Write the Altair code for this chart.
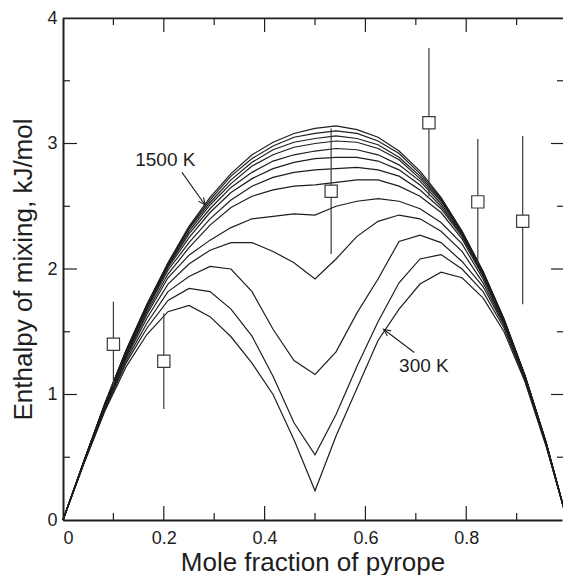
import altair as alt
import pandas as pd

# ---------------- data ----------------
x_grid = [0, 0.0417, 0.0833, 0.125, 0.1667, 0.2083, 0.25, 0.2917, 0.3333, 0.375,
          0.4167, 0.4583, 0.5, 0.5417, 0.5833, 0.625, 0.6667, 0.7083, 0.75, 0.7917,
          0.8333, 0.875, 0.9167, 0.9583, 1.0]

h1500 = [0, 0.47, 0.93, 1.35, 1.72, 2.05, 2.34, 2.57, 2.76, 2.91, 3.01, 3.08, 3.12, 3.14, 3.11, 3.05, 2.94, 2.78, 2.57, 2.30, 1.98, 1.60, 1.15, 0.62, 0]
h1400 = [0, 0.47, 0.93, 1.35, 1.72, 2.045, 2.33, 2.55, 2.74, 2.88, 2.98, 3.05, 3.08, 3.10, 3.08, 3.02, 2.92, 2.76, 2.56, 2.30, 1.98, 1.60, 1.15, 0.62, 0]
h1300 = [0, 0.47, 0.93, 1.345, 1.715, 2.04, 2.32, 2.53, 2.71, 2.85, 2.95, 3.01, 3.04, 3.06, 3.04, 2.99, 2.89, 2.74, 2.55, 2.295, 1.98, 1.60, 1.15, 0.62, 0]
h1200 = [0, 0.47, 0.925, 1.34, 1.71, 2.03, 2.30, 2.51, 2.68, 2.82, 2.91, 2.97, 3.00, 3.02, 3.01, 2.96, 2.87, 2.72, 2.54, 2.29, 1.97, 1.595, 1.145, 0.62, 0]
h1100 = [0, 0.47, 0.92, 1.335, 1.70, 2.02, 2.28, 2.48, 2.65, 2.77, 2.86, 2.91, 2.94, 2.96, 2.95, 2.91, 2.83, 2.70, 2.52, 2.28, 1.97, 1.59, 1.145, 0.62, 0]
h1000 = [0, 0.47, 0.92, 1.33, 1.69, 2.01, 2.25, 2.45, 2.61, 2.72, 2.80, 2.85, 2.88, 2.89, 2.89, 2.86, 2.79, 2.67, 2.50, 2.27, 1.96, 1.59, 1.14, 0.615, 0]
h900 = [0, 0.47, 0.915, 1.32, 1.68, 1.99, 2.21, 2.40, 2.55, 2.66, 2.73, 2.77, 2.79, 2.80, 2.81, 2.79, 2.74, 2.63, 2.48, 2.26, 1.95, 1.585, 1.14, 0.615, 0]
h800 = [0, 0.465, 0.91, 1.31, 1.66, 1.96, 2.17, 2.35, 2.49, 2.58, 2.63, 2.66, 2.67, 2.69, 2.71, 2.71, 2.66, 2.58, 2.45, 2.24, 1.94, 1.58, 1.135, 0.61, 0]
h700 = [0, 0.465, 0.905, 1.30, 1.64, 1.93, 2.11, 2.23, 2.33, 2.40, 2.42, 2.44, 2.43, 2.50, 2.54, 2.56, 2.54, 2.48, 2.37, 2.20, 1.92, 1.57, 1.13, 0.61, 0]
h600 = [0, 0.46, 0.90, 1.29, 1.61, 1.88, 2.04, 2.15, 2.21, 2.21, 2.14, 2.05, 1.92, 2.08, 2.26, 2.38, 2.43, 2.40, 2.30, 2.14, 1.89, 1.56, 1.125, 0.605, 0]
h500 = [0, 0.46, 0.89, 1.27, 1.57, 1.82, 1.94, 2.02, 2.00, 1.82, 1.52, 1.27, 1.16, 1.34, 1.65, 1.92, 2.22, 2.27, 2.21, 2.06, 1.86, 1.55, 1.12, 0.60, 0]
h400 = [0, 0.455, 0.88, 1.25, 1.53, 1.75, 1.845, 1.82, 1.68, 1.465, 1.146, 0.775, 0.52, 0.84, 1.225, 1.58, 1.89, 2.08, 2.115, 2.00, 1.82, 1.53, 1.11, 0.595, 0]
h300 = [0, 0.45, 0.87, 1.22, 1.48, 1.66, 1.71, 1.62, 1.46, 1.25, 1.00, 0.64, 0.233, 0.67, 1.05, 1.43, 1.68, 1.88, 1.975, 1.93, 1.77, 1.50, 1.10, 0.59, 0]

temps = [1500, 1400, 1300, 1200, 1100, 1000, 900, 800, 700, 600, 500, 400, 300]
curves = [h1500, h1400, h1300, h1200, h1100, h1000, h900, h800, h700, h600, h500, h400, h300]

# experimental points
exp_x = [0.1, 0.2, 0.532, 0.726, 0.823, 0.912]
exp_y = [1.40, 1.265, 2.62, 3.165, 2.535, 2.38]
exp_lo = [1.06, 0.885, 2.12, 2.58, 2.035, 1.72]
exp_hi = [1.74, 1.645, 3.12, 3.76, 3.035, 3.06]

# axis ticks
x_labels = [0, 0.2, 0.4, 0.6, 0.8]
y_labels = [0, 1, 2, 3, 4]
x_major = [0.2, 0.4, 0.6, 0.8]
x_minor = [0.1, 0.3, 0.5, 0.7, 0.9]
y_major = [1, 2, 3]
y_minor = [0.5, 1.5, 2.5, 3.5]

# annotations
lab_text = ["1500 K", "300 K"]
lab_x = [0.203, 0.716]
lab_y = [2.87, 1.23]
arr_x1 = [0.236, 0.697]
arr_y1 = [2.77, 1.335]
arr_x2 = [0.282, 0.636]
arr_y2 = [2.51, 1.52]
arr_angle = [54, 216.6]

W, H = 499, 502
X_MAX, Y_MAX = 0.99, 4.0
PX_X = X_MAX / W        # data units per pixel along x
PX_Y = Y_MAX / H        # data units per pixel along y
MAJ, MIN = 14, 7        # tick lengths in pixels

# ---------------- frames ----------------
rows = []
for t, ys in zip(temps, curves):
    for xv, yv in zip(x_grid, ys):
        rows.append({"key": f"T{t}", "x": xv, "y": yv})

# tick marks and top frame drawn as short two-point lines in the same line layer
n_seg = [0]


def add_seg(x1, y1, x2, y2):
    k = f"tick{n_seg[0]}"
    n_seg[0] += 1
    rows.append({"key": k, "x": x1, "y": y1})
    rows.append({"key": k, "x": x2, "y": y2})


for v in x_major:
    add_seg(v, 0, v, MAJ * PX_Y)
    add_seg(v, Y_MAX, v, Y_MAX - MAJ * PX_Y)
for v in x_minor:
    add_seg(v, 0, v, MIN * PX_Y)
    add_seg(v, Y_MAX, v, Y_MAX - MIN * PX_Y)
for v in y_major:
    add_seg(0, v, MAJ * PX_X, v)
    add_seg(X_MAX - 11 * PX_X, v, X_MAX + 2 * PX_X, v)
for v in y_minor:
    add_seg(0, v, MIN * PX_X, v)
    add_seg(X_MAX - 5 * PX_X, v, X_MAX + 2 * PX_X, v)
add_seg(0, Y_MAX, X_MAX + 2 * PX_X, Y_MAX)
add_seg(0, Y_MAX - 0.6 * PX_Y, X_MAX + 2 * PX_X, Y_MAX - 0.6 * PX_Y)

df = pd.DataFrame(rows)
exp_df = pd.DataFrame({"x": exp_x, "y": exp_y, "lo": exp_lo, "hi": exp_hi})
lab_df = pd.DataFrame({"x": lab_x, "y": lab_y, "text": lab_text})
arr_df = pd.DataFrame({"x": arr_x1, "y": arr_y1, "x2": arr_x2, "y2": arr_y2, "angle": arr_angle})

FONT = "Liberation Sans"
INK = "#1e1e1e"
GREY = "#3a3a3a"

xs = alt.Scale(domain=[0, X_MAX], nice=False, zero=False)
ys_ = alt.Scale(domain=[0, Y_MAX], nice=False)

XAX = alt.Axis(
    values=x_labels, format=".1~f", ticks=False, grid=False,
    domainColor=INK, domainWidth=2, labelFontSize=18, labelColor=INK,
    labelPadding=9, title="Mole fraction of pyrope", titleFontSize=26,
    titleFontWeight="normal", titleColor=INK, titlePadding=2)
YAX = alt.Axis(
    values=y_labels, format="d", ticks=False, grid=False,
    domainColor=INK, domainWidth=2, labelFontSize=18, labelColor=INK,
    labelPadding=6, title="Enthalpy of mixing, kJ/mol", titleFontSize=26,
    titleFontWeight="normal", titleColor=INK, titlePadding=10)


def X(field):
    return alt.X(field, scale=xs, axis=XAX)


def Y(field):
    return alt.Y(field, scale=ys_, axis=YAX)


lines = alt.Chart(df).mark_line(color=INK, strokeWidth=1.2).encode(
    x=X("x:Q"), y=Y("y:Q"), detail="key:N",
)

ebars = alt.Chart(exp_df).mark_rule(color=GREY, strokeWidth=1.2).encode(
    x=X("x:Q"), y=Y("lo:Q"), y2="hi:Q",
)

squares = alt.Chart(exp_df).mark_point(
    shape="square", size=150, filled=True, fill="white", stroke=GREY,
    strokeWidth=1.2, opacity=1).encode(
    x=X("x:Q"), y=Y("y:Q"),
)

labels = alt.Chart(lab_df).mark_text(fontSize=19, color=INK, align="center",
                                     baseline="middle").encode(
    x=X("x:Q"), y=Y("y:Q"), text="text:N",
)

arrow_lines = alt.Chart(arr_df).mark_rule(color=INK, strokeWidth=1.1).encode(
    x=X("x:Q"), y=Y("y:Q"), x2="x2:Q", y2="y2:Q",
)
arrow_heads = alt.Chart(arr_df).mark_point(
    shape="M-1,-0.45L0,0L-1,0.45", size=200, filled=False, stroke=INK,
    strokeWidth=1.1, opacity=1).encode(
    x=X("x2:Q"), y=Y("y2:Q"),
    angle=alt.Angle("angle:Q", scale=None),
)

chart = alt.layer(
    lines, ebars, squares, labels, arrow_lines, arrow_heads
).properties(
    width=W, height=H,
    autosize=alt.AutoSizeParams(type="none"),
    padding={"left": 63, "top": 18, "right": 1, "bottom": 55},
).configure(
    font=FONT, background="white", view=alt.ViewConfig(stroke=None)
)

chart.save("out.html", embed_options={"renderer": "svg", "actions": False})
